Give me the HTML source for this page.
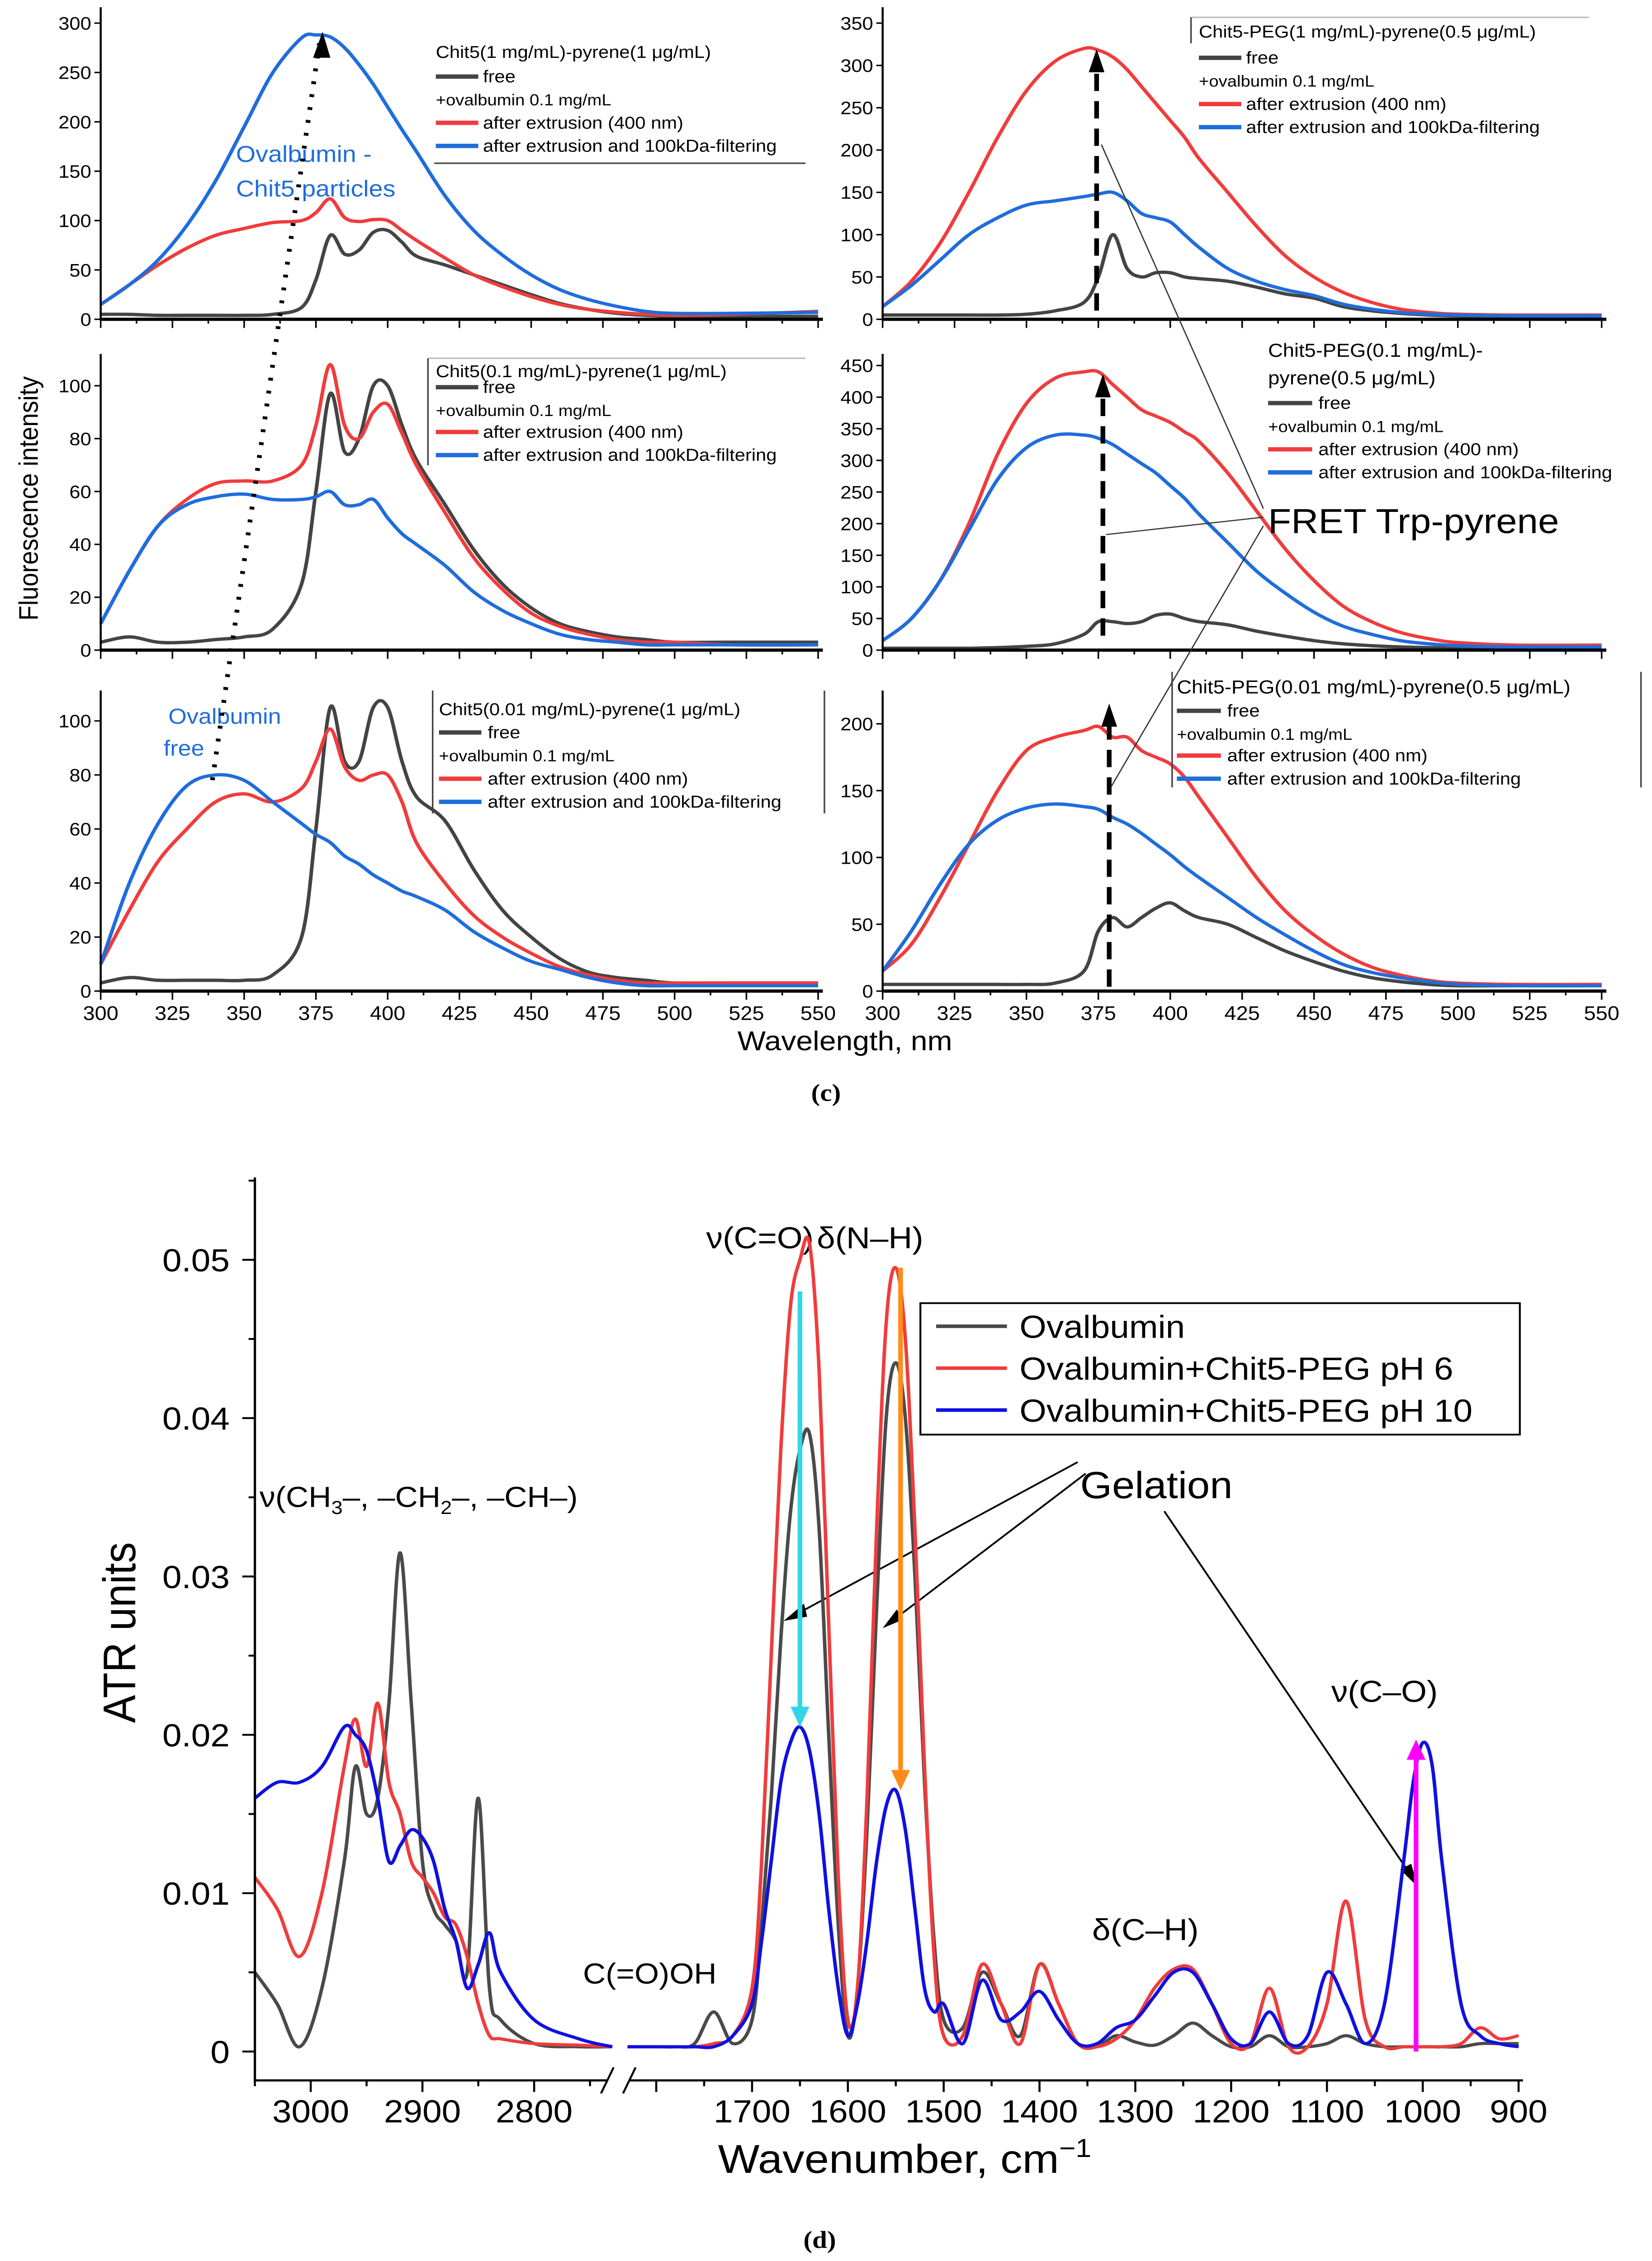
<!DOCTYPE html>
<html><head><meta charset="utf-8"><title>Fluorescence and ATR spectra</title>
<style>
html,body{margin:0;padding:0;background:#fff;width:100%;height:100%;overflow:hidden;}
svg{position:fixed;left:0;top:0;display:block;width:100vw;height:100vh;font-family:"Liberation Sans",Arial,sans-serif;}
</style></head>
<body>
<svg id="fig" xmlns="http://www.w3.org/2000/svg" viewBox="0 0 1050 1565" preserveAspectRatio="none">
<rect x="0" y="0" width="1050" height="1565" fill="#fff"/>
<g id="panels"></g>

<text x="24" y="345" font-size="17" text-anchor="middle" transform="rotate(-90 24 345)">Fluorescence intensity</text>
<text x="537" y="727" font-size="19" text-anchor="middle">Wavelength, nm</text>
<text x="525" y="762" font-size="17" font-weight="bold" text-anchor="middle" font-family="Liberation Serif, serif">(c)</text>
<text x="521" y="1556" font-size="17" font-weight="bold" text-anchor="middle" font-family="Liberation Serif, serif">(d)</text>

<g font-size="12">
<text x="277" y="40">Chit5(1 mg/mL)-pyrene(1 μg/mL)</text>
<line x1="277" y1="53" x2="304" y2="53" stroke="#444" stroke-width="3"/><text x="307" y="57">free</text>
<text x="277" y="73" font-size="11">+ovalbumin  0.1 mg/mL</text>
<line x1="277" y1="85" x2="304" y2="85" stroke="#f03c3c" stroke-width="3"/><text x="307" y="89">after extrusion (400 nm)</text>
<line x1="277" y1="101" x2="304" y2="101" stroke="#1f6ddb" stroke-width="3"/><text x="307" y="105">after extrusion and 100kDa-filtering</text>
<line x1="276" y1="113" x2="512" y2="113" stroke="#444" stroke-width="1"/>
</g>
<g font-size="12">
<line x1="272" y1="248" x2="512" y2="248" stroke="#bbb" stroke-width="1"/>
<line x1="272" y1="248" x2="272" y2="322" stroke="#444" stroke-width="1"/>
<text x="277" y="261">Chit5(0.1 mg/mL)-pyrene(1 μg/mL)</text>
<line x1="277" y1="268" x2="304" y2="268" stroke="#444" stroke-width="3"/><text x="307" y="272">free</text>
<text x="277" y="288" font-size="11">+ovalbumin  0.1 mg/mL</text>
<line x1="277" y1="299" x2="304" y2="299" stroke="#f03c3c" stroke-width="3"/><text x="307" y="303">after extrusion (400 nm)</text>
<line x1="277" y1="315" x2="304" y2="315" stroke="#1f6ddb" stroke-width="3"/><text x="307" y="319">after extrusion and 100kDa-filtering</text>
</g>
<g font-size="12">
<line x1="275" y1="478" x2="275" y2="563" stroke="#444" stroke-width="1"/>
<line x1="524" y1="478" x2="524" y2="563" stroke="#444" stroke-width="1"/>
<text x="279" y="495">Chit5(0.01 mg/mL)-pyrene(1 μg/mL)</text>
<line x1="279" y1="507" x2="306" y2="507" stroke="#444" stroke-width="3"/><text x="310" y="511">free</text>
<text x="279" y="527" font-size="11">+ovalbumin  0.1 mg/mL</text>
<line x1="279" y1="539" x2="306" y2="539" stroke="#f03c3c" stroke-width="3"/><text x="310" y="543">after extrusion (400 nm)</text>
<line x1="279" y1="555" x2="306" y2="555" stroke="#1f6ddb" stroke-width="3"/><text x="310" y="559">after extrusion and 100kDa-filtering</text>
</g>
<g font-size="12">
<line x1="757" y1="12" x2="1010" y2="12" stroke="#bbb" stroke-width="1"/>
<line x1="757" y1="12" x2="757" y2="30" stroke="#444" stroke-width="1"/>
<text x="762" y="26">Chit5-PEG(1 mg/mL)-pyrene(0.5 μg/mL)</text>
<line x1="762" y1="40" x2="789" y2="40" stroke="#444" stroke-width="3"/><text x="792" y="44">free</text>
<text x="762" y="60" font-size="11">+ovalbumin  0.1 mg/mL</text>
<line x1="762" y1="72" x2="789" y2="72" stroke="#f03c3c" stroke-width="3"/><text x="792" y="76">after extrusion (400 nm)</text>
<line x1="762" y1="88" x2="789" y2="88" stroke="#1f6ddb" stroke-width="3"/><text x="792" y="92">after extrusion and 100kDa-filtering</text>
</g>
<g font-size="12">
<text x="806" y="247" font-size="13">Chit5-PEG(0.1 mg/mL)-</text>
<text x="806" y="266" font-size="13">pyrene(0.5 μg/mL)</text>
<line x1="806" y1="279" x2="834" y2="279" stroke="#444" stroke-width="3"/><text x="838" y="283">free</text>
<text x="806" y="299" font-size="11">+ovalbumin  0.1 mg/mL</text>
<line x1="806" y1="311" x2="834" y2="311" stroke="#f03c3c" stroke-width="3"/><text x="838" y="315">after extrusion (400 nm)</text>
<line x1="806" y1="327" x2="834" y2="327" stroke="#1f6ddb" stroke-width="3"/><text x="838" y="331">after extrusion and 100kDa-filtering</text>
</g>
<g font-size="12">
<line x1="745" y1="465" x2="745" y2="545" stroke="#444" stroke-width="1"/>
<line x1="1043" y1="465" x2="1043" y2="545" stroke="#444" stroke-width="1"/>
<text x="748" y="480" font-size="13">Chit5-PEG(0.01 mg/mL)-pyrene(0.5 μg/mL)</text>
<line x1="748" y1="492" x2="776" y2="492" stroke="#444" stroke-width="3"/><text x="780" y="496">free</text>
<text x="748" y="512" font-size="11">+ovalbumin  0.1 mg/mL</text>
<line x1="748" y1="523" x2="776" y2="523" stroke="#f03c3c" stroke-width="3"/><text x="780" y="527">after extrusion (400 nm)</text>
<line x1="748" y1="539" x2="776" y2="539" stroke="#1f6ddb" stroke-width="3"/><text x="780" y="543">after extrusion and 100kDa-filtering</text>
</g>

<text x="150" y="112" font-size="16" fill="#1f6ddb">Ovalbumin  -</text>
<text x="150" y="136" font-size="16" fill="#1f6ddb">Chit5 particles</text>
<text x="107" y="501" font-size="15" fill="#1f6ddb">Ovalbumin</text>
<text x="104" y="523" font-size="15" fill="#1f6ddb">free</text>
<line x1="135" y1="540" x2="203" y2="30" stroke="#000" stroke-width="3" stroke-dasharray="2,7"/>
<polygon points="205,22 199,40 210,40" fill="#000"/>
<g stroke="#000" stroke-width="3" stroke-dasharray="12,7">
<line x1="697" y1="215" x2="697" y2="45"/>
<line x1="701" y1="440" x2="701" y2="270"/>
<line x1="705" y1="683" x2="705" y2="500"/>
</g>
<polygon points="697,34 692,50 702,50" fill="#000"/>
<polygon points="701,259 696,275 706,275" fill="#000"/>
<polygon points="705,487 700,503 710,503" fill="#000"/>
<g stroke="#333" stroke-width="0.8">
<line x1="803" y1="352" x2="700" y2="100"/>
<line x1="803" y1="358" x2="703" y2="370"/>
<line x1="803" y1="364" x2="706" y2="545"/>
</g>
<text x="806" y="369" font-size="24">FRET Trp-pyrene</text>

<text x="86" y="1130" font-size="29" text-anchor="middle" transform="rotate(-90 86 1130)">ATR units</text>
<text x="575" y="1504" font-size="28" text-anchor="middle">Wavenumber, cm<tspan font-size="18" dy="-11">−1</tspan></text>
<text x="483" y="864" font-size="21" text-anchor="middle">ν(C=O)</text>
<text x="553" y="864" font-size="21" text-anchor="middle">δ(N–H)</text>
<text x="165" y="1043" font-size="20">ν(CH<tspan font-size="13" dy="5">3</tspan><tspan dy="-5">–, –CH</tspan><tspan font-size="13" dy="5">2</tspan><tspan dy="-5">–, –CH–)</tspan></text>
<text x="735" y="1037" font-size="26" text-anchor="middle">Gelation</text>
<text x="880" y="1178" font-size="21" text-anchor="middle">ν(C–O)</text>
<text x="728" y="1343" font-size="21" text-anchor="middle">δ(C–H)</text>
<text x="413" y="1373" font-size="20" text-anchor="middle">C(=O)OH</text>
<g stroke="#000" stroke-width="1.2" fill="none">
<line x1="685" y1="1012" x2="505" y2="1118"/>
<line x1="690" y1="1020" x2="567" y2="1122"/>
<line x1="740" y1="1046" x2="898" y2="1300"/>
</g>
<polygon points="498,1122 511,1110 513,1119" fill="#000"/>
<polygon points="561,1127 570,1114 574,1121" fill="#000"/>
<polygon points="901,1306 890,1294 897,1290" fill="#000"/>

<g id="atr"></g>

<g>
<rect x="585" y="902" width="381" height="91" fill="#fff" stroke="#000" stroke-width="1.2"/>
<line x1="595" y1="918" x2="640" y2="918" stroke="#4a4a4a" stroke-width="2.5"/><text x="648" y="926" font-size="22">Ovalbumin</text>
<line x1="595" y1="947" x2="640" y2="947" stroke="#f03c3c" stroke-width="2.5"/><text x="648" y="955" font-size="22">Ovalbumin+Chit5-PEG pH 6</text>
<line x1="595" y1="976" x2="640" y2="976" stroke="#1010e0" stroke-width="2.5"/><text x="648" y="984" font-size="22">Ovalbumin+Chit5-PEG pH 10</text>
</g>
</svg>
<script>
// ---------- Panel (c) data ----------
const wavelengths = [300,310,320,330,340,350,360,370,375,380,385,390,395,400,405,410,420,430,440,450,460,470,480,490,500,520,550];
const xTicksNm = [300,325,350,375,400,425,450,475,500,525,550];
const seriesNames = ['free','after extrusion (400 nm)','after extrusion and 100kDa-filtering'];
const tlFree = [5,5,4,4,4,4,5,12,40,85,66,70,88,90,78,64,55,45,35,25,16,10,6,4,3,3,3];
const tlExtr = [15,35,55,72,85,92,98,100,108,122,103,99,101,100,90,80,62,45,33,23,15,10,7,5,4,5,8];
const tlFilt = [15,35,60,95,140,195,250,285,288,286,275,258,238,215,192,170,125,90,65,45,30,20,13,8,6,6,7];
const mlFree = [3,5,3,3,4,5,8,25,60,97,75,80,100,100,85,72,55,38,25,16,10,7,5,4,3,3,3];
const mlExtr = [10,30,47,57,63,64,64,70,85,108,85,80,90,93,82,70,52,35,23,14,9,6,4,3,3,2,2];
const mlFilt = [10,30,47,55,58,59,57,57,58,60,55,55,57,50,44,40,32,22,15,10,6,4,3,2,2,2,2];
const blFree = [3,5,4,4,4,4,6,20,60,105,85,85,105,105,85,72,63,45,30,20,12,7,5,4,3,3,3];
const blExtr = [10,30,48,60,70,73,70,75,85,97,83,78,80,80,70,55,40,28,20,14,9,6,4,3,3,3,3];
const blFilt = [10,40,62,76,80,78,70,62,58,55,50,47,43,40,37,35,30,22,16,11,8,5,3,2,2,2,2];
const trFree = [5,5,5,5,5,6,10,20,50,100,60,50,55,55,50,48,45,38,30,25,15,10,7,5,4,3,3];
const trExtr = [15,45,90,150,215,270,305,320,318,310,295,275,255,235,215,190,150,110,75,50,32,20,12,8,6,5,5];
const trFilt = [15,40,70,100,120,135,140,145,148,150,140,125,120,115,100,85,60,45,35,28,18,12,8,6,5,4,4];
const mrFree = [3,3,3,3,4,6,10,25,45,45,42,45,55,57,50,45,40,30,22,15,10,7,5,4,3,2,2];
const mrExtr = [15,50,110,200,310,390,430,440,440,420,400,380,370,360,345,330,280,220,160,110,70,45,28,18,12,8,8];
const mrFilt = [15,50,110,190,270,320,340,340,335,325,310,295,280,260,240,215,170,125,90,60,38,25,15,10,7,5,5];
const brFree = [5,5,5,5,5,5,6,15,45,55,48,55,62,66,60,55,50,40,30,22,15,10,7,5,4,4,4];
const brExtr = [15,35,70,110,150,180,190,195,198,190,190,180,175,170,160,145,115,85,60,42,28,18,12,8,6,5,5];
const brFilt = [15,45,80,110,128,137,140,138,136,130,125,118,110,102,93,85,70,55,42,30,20,14,10,7,5,4,4];
const tlYTicks = [0,50,100,150,200,250,300];
const mlYTicks = [0,20,40,60,80,100];
const blYTicks = [0,20,40,60,80,100];
const trYTicks = [0,50,100,150,200,250,300,350];
const mrYTicks = [0,50,100,150,200,250,300,350,400,450];
const brYTicks = [0,50,100,150,200];

// ---------- Panel (d) data ----------
const wnLeft = [3050,3030,3010,2990,2970,2960,2950,2940,2930,2920,2910,2900,2890,2880,2870,2860,2850,2840,2830,2800,2760,2730];
const ovaLeft = [0.005,0.003,0.0003,0.004,0.012,0.018,0.015,0.016,0.022,0.0315,0.022,0.012,0.009,0.008,0.007,0.005,0.016,0.004,0.002,0.0005,0.0003,0.0003];
const ph6Left = [0.011,0.009,0.006,0.010,0.018,0.021,0.018,0.022,0.017,0.015,0.012,0.011,0.010,0.0085,0.008,0.006,0.003,0.001,0.0008,0.0005,0.0004,0.0003];
const ph10Left = [0.016,0.017,0.017,0.018,0.0205,0.020,0.019,0.016,0.012,0.013,0.014,0.0135,0.012,0.009,0.007,0.004,0.0055,0.0075,0.005,0.002,0.0008,0.0003];
const wnRight = [1830,1800,1780,1760,1740,1720,1700,1690,1680,1670,1660,1650,1640,1630,1620,1610,1600,1590,1580,1570,1560,1550,1540,1530,1520,1510,1500,1480,1460,1440,1420,1400,1380,1360,1340,1320,1300,1280,1260,1240,1220,1200,1180,1160,1140,1120,1100,1080,1060,1040,1020,1010,1000,990,980,960,940,920,900];
const ovaRight = [0.0003,0.0003,0.0003,0.0005,0.0025,0.0005,0.002,0.008,0.016,0.026,0.034,0.038,0.039,0.033,0.020,0.008,0.001,0.004,0.014,0.028,0.040,0.0435,0.040,0.030,0.017,0.007,0.002,0.0015,0.005,0.003,0.001,0.0055,0.003,0.0005,0.0003,0.001,0.0006,0.0004,0.001,0.0018,0.001,0.0003,0.0003,0.001,0.0003,0.0003,0.0005,0.001,0.0005,0.0003,0.0003,0.0003,0.0003,0.0003,0.0003,0.0003,0.0005,0.0005,0.0005];
const ph6Right = [0.0003,0.0003,0.0003,0.0003,0.0005,0.001,0.004,0.012,0.025,0.038,0.047,0.050,0.051,0.043,0.027,0.011,0.002,0.004,0.016,0.033,0.046,0.0495,0.045,0.033,0.018,0.006,0.001,0.001,0.0055,0.003,0.0005,0.0055,0.003,0.0005,0.0003,0.0008,0.002,0.004,0.0052,0.0052,0.003,0.0005,0.0005,0.004,0.0003,0.0003,0.003,0.0095,0.002,0.0003,0.0003,0.0003,0.0003,0.0003,0.0003,0.0005,0.0015,0.0008,0.001];
const ph10Right = [0.0003,0.0003,0.0003,0.0003,0.0003,0.001,0.003,0.007,0.012,0.017,0.0195,0.0205,0.019,0.015,0.009,0.004,0.001,0.003,0.007,0.012,0.0155,0.0165,0.014,0.009,0.004,0.0025,0.003,0.0005,0.0045,0.002,0.0025,0.0038,0.002,0.0005,0.0005,0.0015,0.002,0.0035,0.005,0.005,0.003,0.0008,0.0005,0.0025,0.0005,0.001,0.005,0.003,0.0005,0.003,0.012,0.017,0.0195,0.018,0.012,0.003,0.001,0.0005,0.0003];
const atrYTicks = [0,0.01,0.02,0.03,0.04,0.05];
const atrXTicksLeft = [3000,2900,2800];
const atrXTicksRight = [1700,1600,1500,1400,1300,1200,1100,1000,900];

const NS = 'http://www.w3.org/2000/svg';
function mk(tag, attrs, parent){ const e=document.createElementNS(NS,tag); for(const k in attrs) e.setAttribute(k,attrs[k]); if(parent) parent.appendChild(e); return e; }
function smooth(pts){
  let d='M'+pts[0][0].toFixed(2)+','+pts[0][1].toFixed(2);
  for(let i=0;i<pts.length-1;i++){
    const p0=pts[Math.max(0,i-1)],p1=pts[i],p2=pts[i+1],p3=pts[Math.min(pts.length-1,i+2)];
    const c1=[p1[0]+(p2[0]-p0[0])/6,p1[1]+(p2[1]-p0[1])/6];
    const c2=[p2[0]-(p3[0]-p1[0])/6,p2[1]-(p3[1]-p1[1])/6];
    d+=' C'+c1[0].toFixed(2)+','+c1[1].toFixed(2)+' '+c2[0].toFixed(2)+','+c2[1].toFixed(2)+' '+p2[0].toFixed(2)+','+p2[1].toFixed(2);
  }
  return d;
}
const colors = ['#444444','#f03c3c','#1f6ddb'];

const panels = [
  {id:'top-left', x0:64,x1:520, yZero:221, yRefVal:300, yRef:16, yTop:5, ticks:tlYTicks, series:[tlFree,tlExtr,tlFilt], labels:false},
  {id:'mid-left', x0:64,x1:520, yZero:450, yRefVal:100, yRef:267, yTop:245, ticks:mlYTicks, series:[mlFree,mlExtr,mlFilt], labels:false},
  {id:'bottom-left', x0:64,x1:520, yZero:686, yRefVal:100, yRef:499, yTop:478, ticks:blYTicks, series:[blFree,blExtr,blFilt], labels:true},
  {id:'top-right', x0:561,x1:1018, yZero:221, yRefVal:350, yRef:16, yTop:5, ticks:trYTicks, series:[trFree,trExtr,trFilt], labels:false},
  {id:'mid-right', x0:561,x1:1018, yZero:450, yRefVal:450, yRef:253, yTop:245, ticks:mrYTicks, series:[mrFree,mrExtr,mrFilt], labels:false},
  {id:'bottom-right', x0:561,x1:1018, yZero:686, yRefVal:200, yRef:501, yTop:478, ticks:brYTicks, series:[brFree,brExtr,brFilt], labels:true}
];
const root = document.getElementById('panels');
panels.forEach(p=>{
  const g = mk('g',{},root);
  
  
  const xs = w => p.x0 + (w-300)/(250)*(p.x1-p.x0);
  const ys = v => p.yZero - v/p.yRefVal*(p.yZero-p.yRef);
  p.series.forEach((arr,si)=>{
    const pts = wavelengths.map((w,i)=>[xs(w), ys(arr[i])]);
    const path = mk('path',{d:smooth(pts),fill:'none',stroke:colors[si],'stroke-width':2.3,'stroke-linejoin':'round'},g);
    
    
  });
  const ax = mk('line',{x1:p.x0,y1:p.yTop,x2:p.x0,y2:p.yZero+1,stroke:'#000','stroke-width':1.3},g);
  
  
  const bx = mk('line',{x1:p.x0,y1:p.yZero,x2:p.x1+3,y2:p.yZero,stroke:'#000','stroke-width':2.2},g);
  
  
  p.ticks.forEach(t=>{
    const y = ys(t);
    mk('line',{x1:p.x0-4,y1:y,x2:p.x0,y2:y,stroke:'#000','stroke-width':1},g);
    const tx = mk('text',{x:p.x0-6,y:y+4.5,'font-size':12.5,'text-anchor':'end'},g);
    tx.textContent = t;
    
    
  });
  for(let w=300; w<=550; w+=12.5){
    const x = xs(w); const major = (w%25===0);
    mk('line',{x1:x,y1:p.yZero,x2:x,y2:p.yZero+(major?6:3),stroke:'#000','stroke-width':1},g);
  }
  if(p.labels){
    xTicksNm.forEach(w=>{
      const tx = mk('text',{x:xs(w),y:p.yZero+20,'font-size':13.5,'text-anchor':'middle'},g);
      tx.textContent = w;
      
      
    });
  }
});

// ---------- Panel (d) ----------
const atr = document.getElementById('atr');


const yA = v => 1420 - v*10960;
const xL = w => 162 + (3050-w)*0.71;
const xR = w => 478 + (1700-w)*0.609;
const atrColors = ['#4a4a4a','#f03c3c','#1010e0'];
const atrNames = ['ovalbumin','ph6','ph10'];
[[ovaLeft,ovaRight],[ph6Left,ph6Right],[ph10Left,ph10Right]].forEach((pair,si)=>{
  const pl = mk('path',{d:smooth(wnLeft.map((w,i)=>[xL(w),yA(pair[0][i])])),fill:'none',stroke:atrColors[si],'stroke-width':2.2},atr);
  
  
  const pr = mk('path',{d:smooth(wnRight.map((w,i)=>[xR(w),yA(pair[1][i])])),fill:'none',stroke:atrColors[si],'stroke-width':2.2},atr);
  
  
});
function vArrow(x,y1,y2,col,name){
  const g = mk('g',{},atr);
  
  
  const dir = y2>y1?1:-1;
  mk('line',{x1:x,y1:y1,x2:x,y2:y2-dir*10,stroke:col,'stroke-width':3},g);
  mk('polygon',{points:x+','+y2+' '+(x-6)+','+(y2-dir*14)+' '+(x+6)+','+(y2-dir*14),fill:col},g);
}
vArrow(xR(1650), yA(0.048), yA(0.0205), '#33d6e6', 'arrow-cyan');
vArrow(xR(1545), yA(0.0495), yA(0.0165), '#ff8c1a', 'arrow-orange');
vArrow(xR(1007), yA(0), yA(0.0197), '#ff00ff', 'arrow-magenta');
const yax = mk('line',{x1:162,y1:815,x2:162,y2:1441,stroke:'#000','stroke-width':1.5},atr);


for(let k=0; k<=11; k++){
  const v = k*0.005;
  const y=yA(v); const major = (k%2===0);
  mk('line',{x1:162,y1:y,x2:162-(major?8:4),y2:y,stroke:'#000','stroke-width':1.3},atr);
}
atrYTicks.forEach(v=>{
  const t = mk('text',{x:146,y:yA(v)+8,'font-size':22,'text-anchor':'end'},atr);
  t.textContent = v===0?'0':v.toFixed(2);
  
  
});
const xaxL = mk('line',{x1:162,y1:1440,x2:386,y2:1440,stroke:'#000','stroke-width':1.5},atr);


const xaxR = mk('line',{x1:400,y1:1440,x2:968,y2:1440,stroke:'#000','stroke-width':1.5},atr);


mk('line',{x1:382,y1:1449,x2:390,y2:1431,stroke:'#000','stroke-width':1.3},atr);
mk('line',{x1:396,y1:1449,x2:404,y2:1431,stroke:'#000','stroke-width':1.3},atr);
for(let w=3050; w>=2750; w-=50){ const x=xL(w); mk('line',{x1:x,y1:1440,x2:x,y2:1440+(w%100===0?8:4),stroke:'#000','stroke-width':1.3},atr); }
for(let w=1800; w>=900; w-=50){ const x=xR(w); if(x<400) continue; mk('line',{x1:x,y1:1440,x2:x,y2:1440+(w%100===0?8:4),stroke:'#000','stroke-width':1.3},atr); }
atrXTicksLeft.forEach(w=>{
  const t = mk('text',{x:xL(w),y:1469,'font-size':22,'text-anchor':'middle'},atr);
  t.textContent = w;
  
  
});
atrXTicksRight.forEach(w=>{
  const t = mk('text',{x:xR(w),y:1469,'font-size':22,'text-anchor':'middle'},atr);
  t.textContent = w;
  
  
});
</script>
</body></html>
